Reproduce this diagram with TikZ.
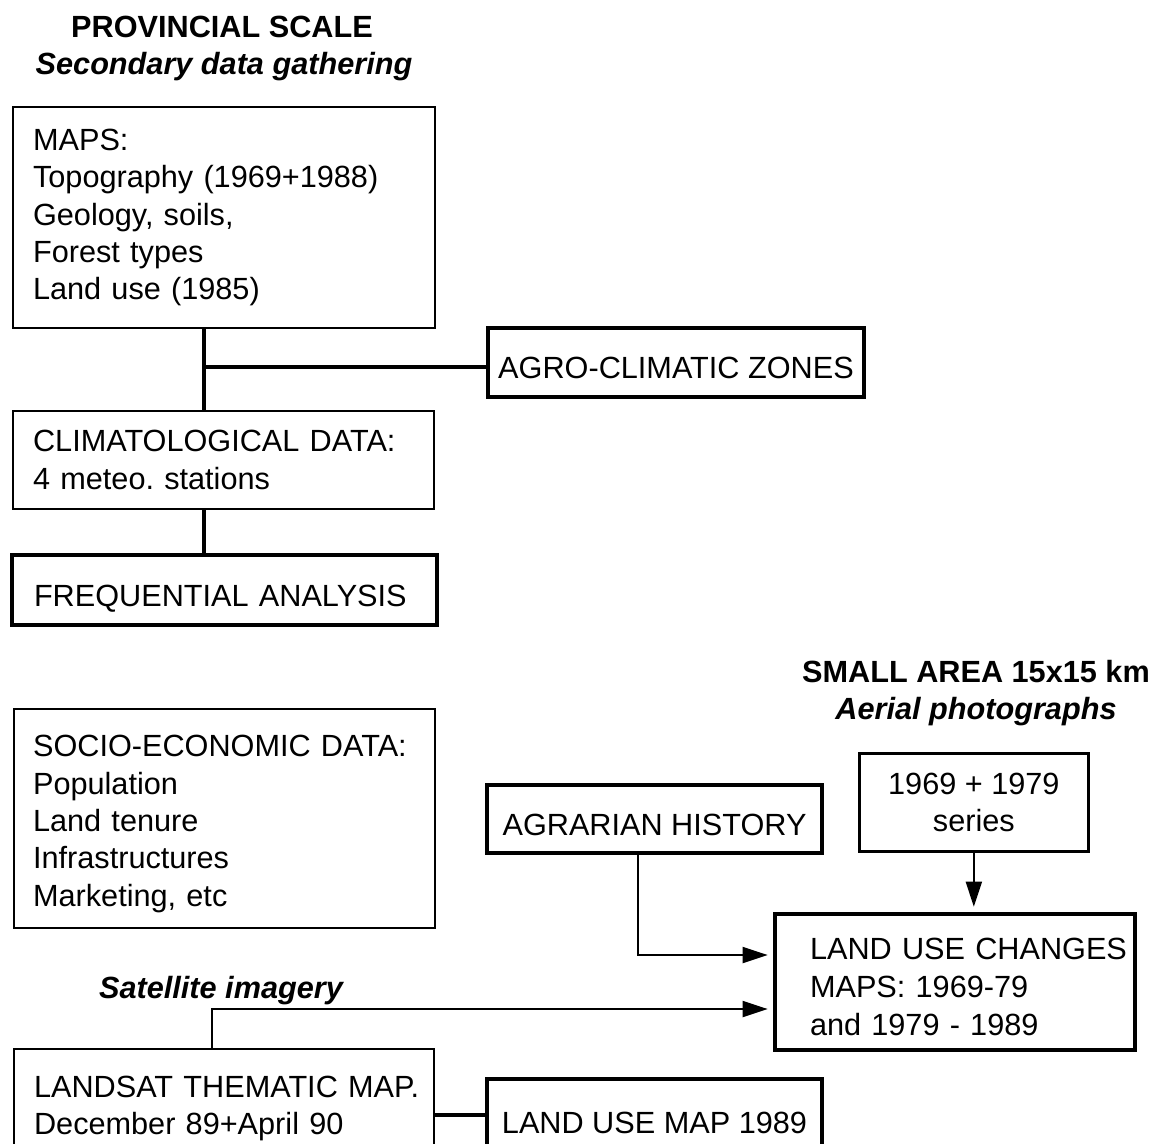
\documentclass[tikz,border=0pt]{standalone}
\usepackage{fontspec}
\setmainfont{Liberation Sans}
\usetikzlibrary{arrows.meta,calc}
\frenchspacing
\begin{document}
\begin{tikzpicture}[x=0.75pt,y=-0.75pt,
  every node/.style={font=\fontsize{23}{28}\selectfont},
  box/.style={draw,rectangle,anchor=north west,inner ysep=0pt,line width=1.6pt},
  heavy/.style={line width=3pt},
  lbox/.style={box,align=left},
  cbox/.style={box,align=center,inner xsep=0pt},
  one/.style={text height=24pt,text depth=0pt},
  conn/.style={line width=3pt},
  arr/.style={line width=1.5pt,-{Triangle[length=18.75pt,width=12pt]},shorten >=4pt},
  ttl/.style={font=\fontsize{23}{28}\selectfont\bfseries,anchor=base,inner sep=0pt}]
\clip (0,0) rectangle (1166,1143);
\fill[white] (0,0) rectangle (1166,1143);

% titles
\node[ttl] (t1) at (222,37) {PROVINCIAL SCALE};
\node[ttl] (t2) at (224,74) {\itshape Secondary data gathering};
\node[ttl] (t3) at (976,682) {SMALL AREA 15x15 km};
\node[ttl] (t4) at (976,719) {\itshape Aerial photographs};
\node[ttl] (t5) at (221,998) {\itshape Satellite imagery};

% boxes
\node[lbox, minimum width=316.5pt, minimum height=165.75pt, text width=286.5pt, inner xsep=15pt] (maps) at (12,106)
  {MAPS:\\\mbox{Topography (1969+1988)}\\Geology, soils,\\Forest types\\Land use (1985)};
\node[cbox, heavy, one, minimum width=282pt, minimum height=51.75pt] (agro) at (486,326) {AGRO-CLIMATIC ZONES};
\node[lbox, minimum width=315.75pt, minimum height=73.5pt, text width=285.75pt, inner xsep=15pt] (clim) at (12,410)
  {\mbox{CLIMATOLOGICAL DATA:}\\4 meteo. stations};
\node[lbox, heavy, one, minimum width=318.75pt, minimum height=52.5pt, text width=285.75pt, inner xsep=16.5pt] (freq) at (10,553)
  {\mbox{FREQUENTIAL ANALYSIS}};
\node[lbox, minimum width=315.75pt, minimum height=164.25pt, text width=287.25pt, inner xsep=14.25pt] (socio) at (13,708)
  {\rule{0pt}{24pt}\mbox{SOCIO-ECONOMIC DATA:}\\Population\\Land tenure\\Infrastructures\\Marketing, etc};
\node[cbox, heavy, one, minimum width=251.25pt, minimum height=51pt] (agrar) at (485,783) {AGRARIAN HISTORY};
\node[cbox, line width=2pt, minimum width=171.75pt, minimum height=73.5pt] (series) at (858,752) {1969 + 1979\\series};
\node[lbox, heavy, minimum width=270pt, minimum height=102pt, text width=217.5pt, inner xsep=26.25pt,
  font=\fontsize{23}{28.5}\selectfont] (luc) at (773,912)
  {\rule{0pt}{23pt}\mbox{LAND USE CHANGES}\\\mbox{MAPS: 1969-79}\\\mbox{and 1979 - 1989}};
\node[lbox, minimum width=315pt, minimum height=89.25pt, text width=285pt, inner xsep=15pt] (landsat) at (13,1048)
  {\mbox{LANDSAT THEMATIC MAP.}\\\mbox{December 89+April 90}};
\node[cbox, heavy, one, minimum width=251.25pt, minimum height=57pt] (lum) at (485,1077) {LAND USE MAP 1989};

% connectors
\coordinate (j1) at ($(maps.south west)+(192,0)$);
\coordinate (j2) at ($(j1)+(0,38)$);
\draw[conn] (j1) -- (j1 |- clim.north);
\draw[conn] (j2) -- (j2 -| agro.west);
\draw[conn] (j1 |- clim.south) -- (j1 |- freq.north);
\draw[arr] ($(agrar.south west)+(153,0)$) |- ($(luc.north west)+(0,43)$);
\draw[arr] (series.south) -- (series.south |- luc.north);
\draw[arr] ($(landsat.north west)+(199,0)$) |- ($(luc.north west)+(0,97)$);
\draw[conn] ($(landsat.north east)+(0,67)$) -- ($(lum.north west)+(0,38)$);
\end{tikzpicture}
\end{document}
